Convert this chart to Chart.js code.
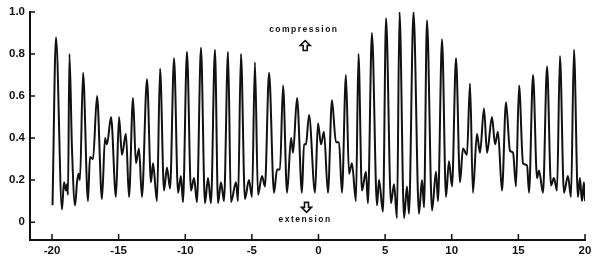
<!DOCTYPE html>
<html>
<head>
<meta charset="utf-8">
<script src="https://cdn.jsdelivr.net/npm/chart.js@4.4.1/dist/chart.umd.min.js"></script>
<style>
  html, body { margin: 0; padding: 0; background: #fff; }
  #wrap { width: 600px; height: 262px; }
</style>
</head>
<body>
<div id="wrap"><canvas id="trace"></canvas></div>
<script>
// readings taken off the scanned trace (x = position, y = relative amplitude)
const xValues = [
  -19.96, -19.70, -19.25, -19.10, -18.95, -18.87, -18.80, -18.69, -18.50, -18.27,
  -18.12, -18.01, -17.90, -17.67, -17.30, -17.15, -16.92, -16.62, -16.25, -16.02,
  -15.87, -15.57, -15.20, -14.97, -14.75, -14.45, -14.22, -13.92, -13.70, -13.47,
  -13.25, -12.87, -12.57, -12.42, -12.12, -11.89, -11.59, -11.37, -11.14, -10.84,
  -10.54, -10.32, -10.17, -9.87, -9.57, -9.34, -9.12, -8.82, -8.52, -8.29,
  -8.07, -7.77, -7.54, -7.32, -7.09, -6.79, -6.57, -6.19, -6.04, -5.82,
  -5.52, -5.22, -4.99, -4.77, -4.54, -4.24, -4.02, -3.71, -3.34, -3.11,
  -2.89, -2.66, -2.36, -2.06, -1.91, -1.61, -1.24, -1.09, -0.94, -0.71,
  -0.26, -0.04, 0.19, 0.41, 0.71, 1.01, 1.31, 1.54, 1.76, 2.06,
  2.29, 2.51, 2.81, 3.00, 3.26, 3.56, 3.71, 4.01, 4.39, 4.54,
  4.84, 5.07, 5.44, 5.67, 5.89, 6.08, 6.42, 6.64, 6.79, 7.13,
  7.54, 7.77, 7.92, 8.14, 8.52, 8.82, 8.97, 9.27, 9.57, 9.79,
  10.02, 10.32, 10.62, 10.84, 11.14, 11.37, 11.59, 11.89, 12.12, 12.42,
  12.65, 13.02, 13.25, 13.47, 13.77, 14.07, 14.37, 14.60, 14.82, 15.05,
  15.35, 15.65, 15.80, 16.10, 16.40, 16.55, 16.85, 17.15, 17.45, 17.67,
  17.90, 18.12, 18.42, 18.72, 18.95, 19.17, 19.47, 19.62, 19.77, 19.92,
  20.00
];
const yValues = [
  0.08, 0.88, 0.06, 0.19, 0.15, 0.18, 0.13, 0.80, 0.35, 0.08,
  0.19, 0.23, 0.20, 0.71, 0.10, 0.31, 0.30, 0.60, 0.11, 0.40,
  0.37, 0.50, 0.12, 0.50, 0.32, 0.42, 0.12, 0.59, 0.28, 0.35,
  0.12, 0.68, 0.19, 0.28, 0.10, 0.73, 0.15, 0.26, 0.16, 0.78,
  0.14, 0.22, 0.095, 0.81, 0.15, 0.21, 0.095, 0.83, 0.09, 0.21,
  0.09, 0.82, 0.09, 0.19, 0.10, 0.81, 0.095, 0.19, 0.10, 0.80,
  0.11, 0.20, 0.12, 0.76, 0.13, 0.22, 0.17, 0.71, 0.14, 0.25,
  0.25, 0.65, 0.14, 0.40, 0.33, 0.59, 0.14, 0.37, 0.37, 0.51,
  0.14, 0.47, 0.37, 0.43, 0.14, 0.58, 0.38, 0.38, 0.14, 0.70,
  0.23, 0.28, 0.10, 0.80, 0.15, 0.24, 0.09, 0.90, 0.08, 0.20,
  0.05, 0.97, 0.09, 0.18, 0.02, 1.00, 0.02, 0.17, 0.04, 1.00,
  0.04, 0.20, 0.07, 0.96, 0.055, 0.24, 0.10, 0.87, 0.12, 0.29,
  0.17, 0.78, 0.19, 0.35, 0.32, 0.66, 0.14, 0.42, 0.33, 0.54,
  0.33, 0.50, 0.37, 0.43, 0.15, 0.57, 0.34, 0.33, 0.17, 0.65,
  0.28, 0.27, 0.14, 0.70, 0.21, 0.245, 0.14, 0.74, 0.175, 0.21,
  0.15, 0.79, 0.14, 0.22, 0.12, 0.82, 0.12, 0.21, 0.10, 0.19,
  0.10
];
const xTicks = [-20, -15, -10, -5, 0, 5, 10, 15, 20];
const yTicks = [0, 0.2, 0.4, 0.6, 0.8, 1.0];

const ink = '#111';
const labelFont = { family: '"Liberation Sans", Arial, sans-serif', size: 11.5, weight: 'bold' };

// inward tick marks plus the compression / extension notes
const decor = {
  id: 'decor',
  afterDraw(chart) {
    const { ctx, chartArea: area, scales: { x, y } } = chart;
    ctx.save();
    ctx.strokeStyle = ink;
    ctx.fillStyle = ink;
    ctx.lineWidth = 1.5;
    ctx.beginPath();
    yTicks.forEach(v => {
      const py = y.getPixelForValue(v);
      ctx.moveTo(area.left, py);
      ctx.lineTo(area.left + 5, py);
    });
    xTicks.forEach(v => {
      const px = x.getPixelForValue(v);
      ctx.moveTo(px, area.bottom);
      ctx.lineTo(px, area.bottom - 6);
    });
    ctx.stroke();

    ctx.font = 'bold 8.5px "Liberation Sans", Arial, sans-serif';
    ctx.letterSpacing = '1.5px';
    ctx.textAlign = 'center';
    ctx.textBaseline = 'middle';
    ctx.fillText('compression', x.getPixelForValue(-1.1), y.getPixelForValue(0.915));
    ctx.fillText('extension', x.getPixelForValue(-1.0), y.getPixelForValue(0.01));

    const arrow = (cx, cy, dir) => {
      ctx.beginPath();
      ctx.moveTo(cx, cy - 5 * dir);
      ctx.lineTo(cx + 5, cy);
      ctx.lineTo(cx + 2, cy);
      ctx.lineTo(cx + 2, cy + 5 * dir);
      ctx.lineTo(cx - 2, cy + 5 * dir);
      ctx.lineTo(cx - 2, cy);
      ctx.lineTo(cx - 5, cy);
      ctx.closePath();
      ctx.stroke();
    };
    ctx.lineWidth = 1.6;
    arrow(x.getPixelForValue(-1.0), y.getPixelForValue(0.84), 1);
    arrow(x.getPixelForValue(-0.9), y.getPixelForValue(0.07), -1);
    ctx.restore();
  }
};

new Chart(document.getElementById('trace'), {
  type: 'line',
  data: {
    datasets: [{
      data: xValues.map((v, i) => ({ x: v, y: yValues[i] })),
      borderColor: ink,
      borderWidth: 2,
      pointRadius: 0,
      cubicInterpolationMode: 'monotone',
      fill: false
    }]
  },
  options: {
    responsive: true,
    maintainAspectRatio: false,
    animation: false,
    layout: { padding: { top: 10, right: 15, left: 0, bottom: 0 } },
    plugins: {
      legend: { display: false },
      tooltip: { enabled: false }
    },
    scales: {
      x: {
        type: 'linear',
        min: -21.65,
        max: 20,
        afterBuildTicks: s => { s.ticks = xTicks.map(v => ({ value: v })); },
        afterFit: s => { s.height = 22; },
        grid: { display: false, drawTicks: false },
        border: { display: true, color: ink, width: 2 },
        ticks: { color: ink, font: labelFont, padding: 4, maxRotation: 0,
                 callback: v => String(v) }
      },
      y: {
        min: -0.085,
        max: 1.0,
        afterBuildTicks: s => { s.ticks = yTicks.map(v => ({ value: v })); },
        afterFit: s => { s.width = 30; },
        grid: { display: false, drawTicks: false },
        border: { display: true, color: ink, width: 2 },
        ticks: { color: ink, font: labelFont, padding: 5,
                 callback: v => v === 0 ? '0' : v.toFixed(1) }
      }
    }
  },
  plugins: [decor]
});
</script>
</body>
</html>
